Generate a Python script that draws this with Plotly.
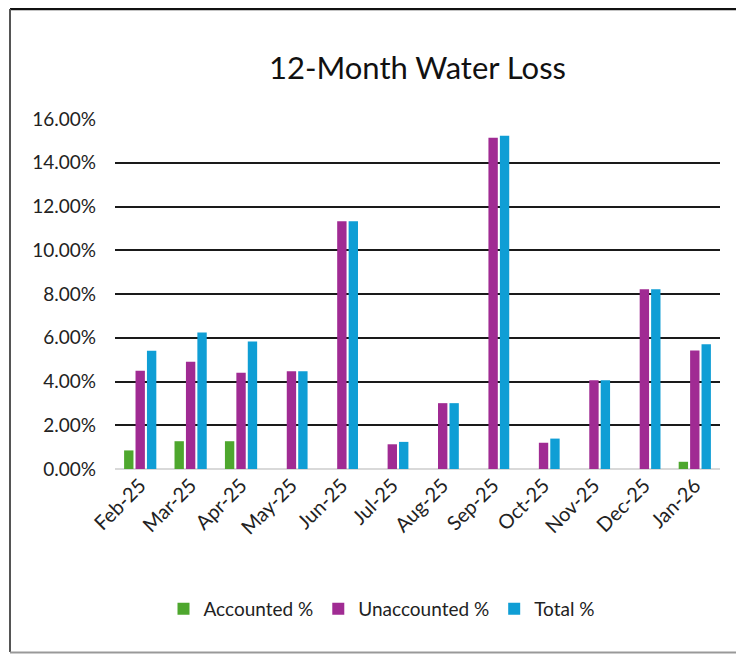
import plotly.graph_objects as go

months = ["Feb-25", "Mar-25", "Apr-25", "May-25", "Jun-25", "Jul-25",
          "Aug-25", "Sep-25", "Oct-25", "Nov-25", "Dec-25", "Jan-26"]
accounted = [0.85, 1.27, 1.27, None, None, None, None, None, None, None, None, 0.33]
unaccounted = [4.49, 4.90, 4.40, 4.47, 11.33, 1.13, 3.01, 15.14, 1.20, 4.06, 8.22, 5.42]
total = [5.41, 6.24, 5.83, 4.47, 11.33, 1.24, 3.01, 15.23, 1.39, 4.06, 8.22, 5.70]
y_ticks = [0, 2, 4, 6, 8, 10, 12, 14, 16]
y_tick_labels = [f"{v:.2f}%" for v in y_ticks]

FONT = "Lato, 'Open Sans', sans-serif"

fig = go.Figure()
fig.add_trace(go.Bar(name="Accounted %", x=months, y=accounted,
                     marker=dict(color="#4EA72E", line=dict(width=0))))
fig.add_trace(go.Bar(name="Unaccounted %", x=months, y=unaccounted,
                     marker=dict(color="#A02B93", line=dict(width=0))))
fig.add_trace(go.Bar(name="Total %", x=months, y=total,
                     marker=dict(color="#0F9ED5", line=dict(width=0))))

OFF = 8  # page body margin
W, H = 744, 654
L, T = 115 - OFF, 119 - OFF
pw, ph = 605, 350
R = W - L - pw
B = H - T - ph

def px_x(p):
    return (p - OFF - L) / pw

def px_y(p):
    return (T + ph - (p - OFF)) / ph

shapes = [
    dict(type="line", xref="paper", yref="paper", x0=px_x(10), x1=px_x(770),
         y0=px_y(9), y1=px_y(9), line=dict(color="#111111", width=2.5)),
    dict(type="line", xref="paper", yref="paper", x0=px_x(10), x1=px_x(10),
         y0=px_y(9), y1=px_y(652), line=dict(color="#555555", width=2)),
    dict(type="line", xref="paper", yref="paper", x0=px_x(10), x1=px_x(770),
         y0=px_y(652.5), y1=px_y(652.5), line=dict(color="#999999", width=2)),
]

fig.update_layout(
    width=W, height=H,
    margin=dict(l=L, r=R, t=T, b=B),
    paper_bgcolor="white", plot_bgcolor="white",
    barmode="group", bargap=0.32, bargroupgap=0.18,
    font=dict(family=FONT, color="#222222", size=19),
    title=dict(text="12-Month Water Loss", x=0.5, xref="paper", xanchor="center",
               y=1 - (68 - OFF) / H, yanchor="middle", yref="container",
               font=dict(size=31, family=FONT, color="#111111")),
    showlegend=True,
    legend=dict(orientation="h", x=px_x(382), xanchor="center", y=px_y(609), yanchor="middle",
                font=dict(size=19, family=FONT), itemwidth=30, tracegroupgap=0,
                traceorder="normal"),
    xaxis=dict(tickangle=-45, showgrid=False, showline=False, ticks="",
               tickfont=dict(size=20, family=FONT), zeroline=False),
    yaxis=dict(range=[0, 16], tickvals=y_ticks, ticktext=y_tick_labels,
               showgrid=True, gridcolor="#1a1a1a", gridwidth=2,
               zeroline=True, zerolinecolor="#d9d9d9", zerolinewidth=2,
               showline=False, ticks="", ticklabelstandoff=18,
               tickfont=dict(size=19, family=FONT)),
    shapes=shapes,
)

fig.write_html("out.html")
